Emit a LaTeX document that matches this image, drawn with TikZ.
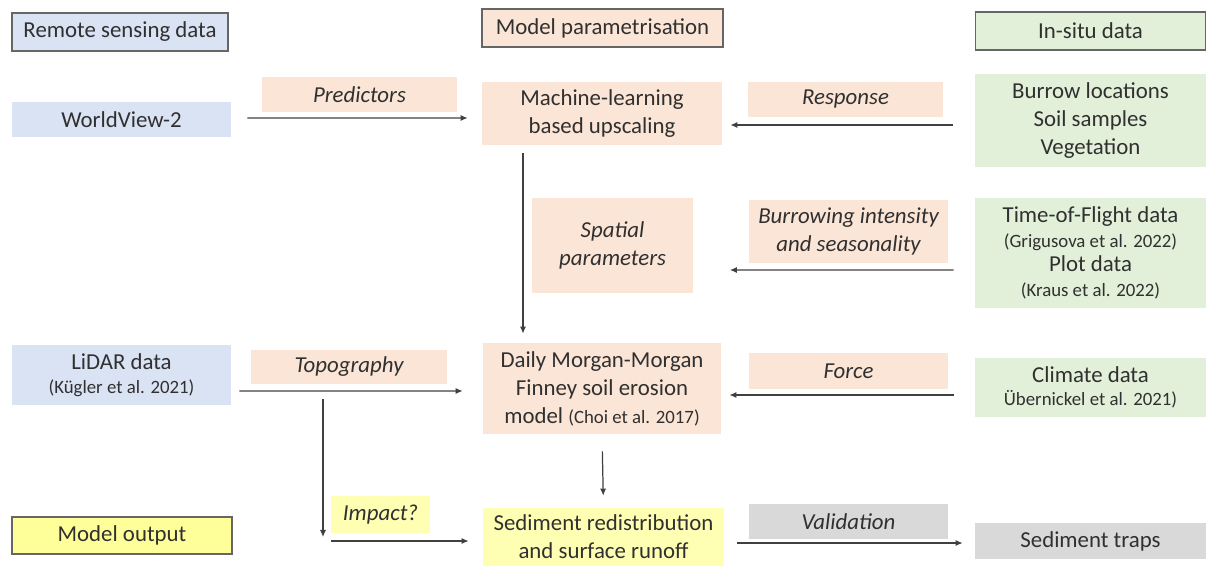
\documentclass[tikz,border=0pt]{standalone}
\usepackage{fontspec}
\setmainfont{Carlito}
\usetikzlibrary{arrows.meta,positioning,calc}
\definecolor{rsblue}{HTML}{DAE3F3}
\definecolor{mppeach}{HTML}{FBE5D6}
\definecolor{isgreen}{HTML}{E2F0D9}
\definecolor{moyellow}{HTML}{FFFF99}
\definecolor{sedyellow}{HTML}{FFFFB3}
\definecolor{valgray}{HTML}{D9D9D9}
\definecolor{txtgray}{HTML}{303030}
\definecolor{lngray}{HTML}{404040}
\newcommand{\pxu}{0.02cm}
\newcommand{\refsmall}{\fontsize{10.7}{13}\selectfont}

\begin{document}
\begin{tikzpicture}[x=0.02cm, y=-0.02cm,
box/.style = {inner sep=0pt, align=center, text=txtgray,
              font=\fontsize{13}{16}\selectfont},
wh/.style 2 args = {minimum width=#1*\pxu, minimum height=#2*\pxu},
head/.style = {draw=black!60, line width=0.85pt},
rs/.style = {box, fill=rsblue},
mp/.style = {box, fill=mppeach},
is/.style = {box, fill=isgreen},
lbl/.style = {mp, font=\fontsize{13}{16}\selectfont\itshape},
arr/.style = {draw=lngray, line width=0.7pt, -{Latex[length=4pt,width=3.5pt]}}
                ]
\path [use as bounding box, clip] (0,0) rectangle (1206,566);
%% headers
\node (hrs) [rs, head, wh={216}{38}] at (120,32) {Remote sensing data};
\node (hmp) [mp, head, wh={241}{38}] at (602.5,28) {Model parametrisation};
\node (his) [is, head, wh={230}{38}] at (1090.5,31) {In-situ data};
\node (hmo) [box, fill=moyellow, head, wh={220}{37}] at (122,535.5) {Model output};
%% left column
\node (wv) [rs, wh={219}{35}] at (121.5,119.5) {WorldView-2};
\node (lidar) [rs, wh={219}{60}] at (121.5,375) {LiDAR data\\[-2pt] {\refsmall (Kügler et al. 2021)}};
%% middle column
\node (ml) [mp, wh={240}{63}] at (602,113.5) {Machine-learning\\ based upscaling};
\node (spat) [lbl, wh={161}{95}] at (612.5,245.5) {Spatial\\ parameters};
\node (daily) [mp, wh={238}{91}] at (602,388.5)
      {Daily Morgan-Morgan\\ Finney soil erosion\\ model {\refsmall (Choi et al. 2017)}};
\node (sed) [box, fill=sedyellow, wh={241}{58}] at (603.5,537)
      {Sediment redistribution\\ and surface runoff};
%% right column
\node (bur) [is, wh={231}{93}] at (1090.5,120.5) {Burrow locations\\ Soil samples\\ Vegetation};
\node (tof) [is, wh={231}{110}] at (1090.5,253)
      {Time-of-Flight data\\[-2pt] {\refsmall (Grigusova et al. 2022)}\\[-2pt] Plot data\\[-2pt] {\refsmall (Kraus et al. 2022)}};
\node (clim) [is, wh={231}{59}] at (1090.5,387.5) {Climate data\\[-3pt] {\refsmall Übernickel et al. 2021)}};
\node (trap) [box, fill=valgray, wh={231}{36}] at (1090.5,541) {Sediment traps};
%% labels on connectors
\node (pred) [lbl, wh={195}{35}] at (359.5,94.5) {Predictors};
\node (resp) [lbl, wh={195}{35}] at (845.5,99.5) {Response};
\node (bint) [lbl, wh={199}{63}] at (848.5,231.5) {Burrowing intensity\\ and seasonality};
\node (topo) [lbl, wh={196}{34}] at (349,367) {Topography};
\node (force) [lbl, wh={199}{36}] at (848.5,371) {Force};
\node (imp) [lbl, fill=sedyellow, wh={99}{37}] at (380.5,514.5) {Impact?};
\node (val) [lbl, fill=valgray, wh={199}{35}] at (848.5,521.5) {Validation};
\coordinate (split) at (323,399);
\coordinate (bend) at (323,541);
%% connectors
\draw [arr, shorten <=16*\pxu, shorten >=14*\pxu] ([yshift=1.5*\pxu]wv.east) -- ([yshift=-4.5*\pxu]ml.west);
\draw [arr, shorten <=22*\pxu, shorten >=8*\pxu] ([yshift=-4.5*\pxu]bur.west) -- ([yshift=-11.5*\pxu]ml.east);
\draw [arr, shorten <=8*\pxu, shorten >=9*\pxu] ([xshift=-79*\pxu]ml.south) -- ([xshift=-79*\pxu]daily.north);
\draw [arr, shorten <=21*\pxu, shorten >=36.5*\pxu] ([yshift=-17*\pxu]tof.west) -- ([yshift=-24.5*\pxu]spat.east);
\draw [arr, shorten <=8*\pxu, shorten >=20*\pxu] ([yshift=-16*\pxu]lidar.east) -- ([yshift=-2.5*\pxu]daily.west);
\draw [arr, shorten <=21*\pxu, shorten >=8*\pxu] ([yshift=-7.5*\pxu]clim.west) -- ([yshift=-6.5*\pxu]daily.east);
\draw [arr, shorten >=4*\pxu] (split) -- (bend);
\draw [arr, shorten <=8*\pxu, shorten >=14*\pxu] (bend) -- (bend -| sed.west);
\draw [arr, shorten <=17*\pxu, shorten >=12*\pxu] (daily.south) -- (sed.north);
\draw [arr, shorten <=13*\pxu, shorten >=12*\pxu] ([yshift=-6*\pxu]sed.east) -- ([yshift=-2*\pxu]trap.west);
\end{tikzpicture}
\end{document}
